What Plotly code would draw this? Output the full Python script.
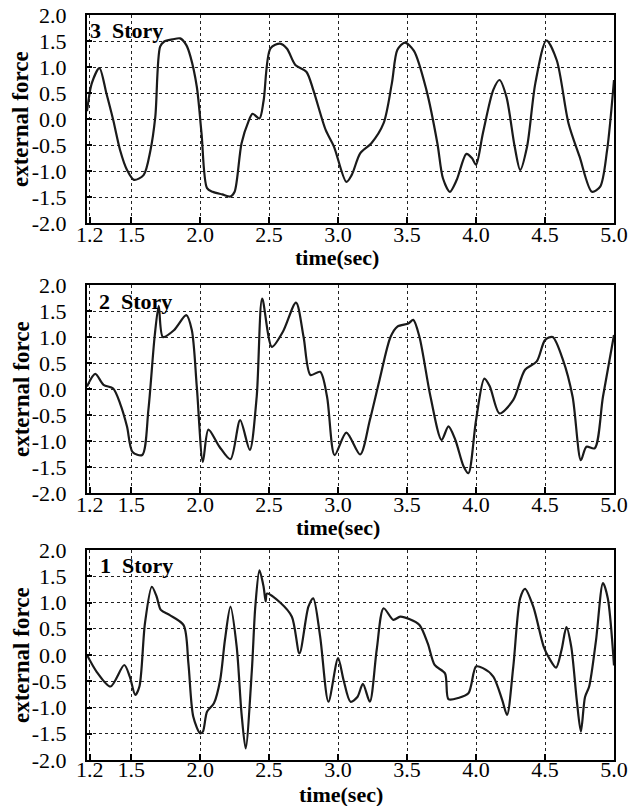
import plotly.graph_objects as go

# ---------------- data ----------------
t3 = [1.18,1.215,1.27,1.32,1.37,1.42,1.47,1.52,1.59,1.64,1.675,1.71,1.74,1.80,1.855,1.90,1.93,1.976,2.01,2.05,2.09,2.16,2.22,2.25,2.30,2.35,2.38,2.43,2.46,2.51,2.58,2.63,2.69,2.77,2.82,2.91,2.97,3.06,3.10,3.16,3.24,3.33,3.39,3.43,3.485,3.55,3.64,3.72,3.76,3.81,3.86,3.93,3.97,4.00,4.05,4.125,4.17,4.22,4.28,4.32,4.37,4.43,4.51,4.585,4.67,4.75,4.84,4.90,4.95,5.0]
f3 = [0.15,0.69,0.98,0.5,-0.02,-0.6,-0.98,-1.17,-1.08,-0.6,0.04,1.39,1.49,1.53,1.55,1.42,1.2,0.62,-0.27,-1.33,-1.40,-1.45,-1.49,-1.40,-0.47,-0.05,0.1,0.01,0.35,1.36,1.45,1.35,1.04,0.91,0.56,-0.21,-0.53,-1.21,-1.07,-0.66,-0.47,-0.08,0.69,1.33,1.47,1.31,0.56,-0.47,-1.14,-1.40,-1.17,-0.67,-0.75,-0.88,-0.27,0.56,0.75,0.43,-0.53,-0.98,-0.53,0.69,1.51,1.13,-0.08,-0.72,-1.40,-1.30,-0.6,0.75]

t2 = [1.18,1.24,1.30,1.37,1.42,1.47,1.51,1.58,1.625,1.67,1.70,1.73,1.81,1.90,1.94,1.976,2.02,2.06,2.14,2.22,2.29,2.36,2.41,2.45,2.52,2.60,2.695,2.75,2.80,2.87,2.92,2.975,3.06,3.16,3.23,3.30,3.38,3.43,3.51,3.545,3.59,3.67,3.75,3.80,3.85,3.91,3.945,4.0,4.06,4.10,4.17,4.27,4.355,4.44,4.50,4.555,4.63,4.70,4.76,4.80,4.86,4.92,5.0]
f2 = [0.05,0.29,0.08,0.01,-0.28,-0.72,-1.21,-1.27,-0.40,1.0,1.6,1.0,1.13,1.42,1.13,0.04,-1.40,-0.78,-1.11,-1.35,-0.6,-1.17,-0.15,1.74,0.81,1.1,1.66,1.0,0.27,0.33,-0.15,-1.27,-0.84,-1.26,-0.6,0.17,1.0,1.20,1.26,1.33,1.0,-0.15,-0.98,-0.72,-0.98,-1.49,-1.62,-0.6,0.20,0.05,-0.47,-0.21,0.37,0.53,0.94,1.0,0.56,-0.15,-1.37,-1.11,-1.14,-0.15,1.04]

t1 = [1.18,1.25,1.35,1.45,1.49,1.53,1.56,1.60,1.65,1.685,1.715,1.78,1.88,1.915,1.95,2.0,2.02,2.05,2.10,2.145,2.18,2.22,2.265,2.30,2.33,2.375,2.40,2.43,2.46,2.475,2.485,2.58,2.665,2.72,2.785,2.82,2.87,2.93,3.0,3.04,3.09,3.14,3.18,3.23,3.28,3.33,3.40,3.45,3.52,3.59,3.65,3.70,3.775,3.80,3.87,3.945,4.0,4.05,4.125,4.19,4.225,4.27,4.32,4.355,4.415,4.49,4.53,4.58,4.62,4.655,4.69,4.73,4.76,4.79,4.82,4.87,4.92,4.955,5.0]
f1 = [0.0,-0.32,-0.60,-0.19,-0.41,-0.76,-0.6,0.60,1.30,1.11,0.86,0.76,0.57,-0.16,-1.17,-1.49,-1.46,-1.08,-0.92,-0.48,0.29,0.92,0.16,-1.11,-1.78,-0.29,0.92,1.61,1.30,1.02,1.17,1.0,0.73,0.03,0.92,1.08,0.35,-0.89,-0.06,-0.48,-0.89,-0.8,-0.55,-0.89,0.10,0.89,0.67,0.73,0.68,0.57,0.22,-0.19,-0.35,-0.84,-0.82,-0.73,-0.22,-0.25,-0.41,-0.86,-1.14,-0.22,1.08,1.26,0.92,0.16,-0.06,-0.24,0.10,0.53,0.16,-0.86,-1.46,-0.80,-0.6,0.29,1.37,1.08,-0.2]

panel_labels = ["3&nbsp; Story", "2&nbsp; Story", "1&nbsp; Story"]
x_ticks = [1.2, 1.5, 2.0, 2.5, 3.0, 3.5, 4.0, 4.5, 5.0]
x_ticktext = ["1.2", "1.5", "2.0", "2.5", "3.0", "3.5", "4.0", "4.5", "5.0"]
y_ticks = [-2.0, -1.5, -1.0, -0.5, 0.0, 0.5, 1.0, 1.5, 2.0]
y_ticktext = ["-2.0", "-1.5", "-1.0", "-0.5", "0.0", "0.5", "1.0", "1.5", "2.0"]
x_title = "time(sec)"
y_title = "external force"

# ---------------- figure ----------------
W, H = 633, 806
ML, MR, MT, MB = 87, 19, 15, 46
plot_h = H - MT - MB
plot_w = W - ML - MR

def frac(ypix):
    return (H - MB - ypix) / plot_h

domains = [(frac(223), frac(15)), (frac(493), frac(285)), (frac(760), frac(550))]
series = [(t3, f3), (t2, f2), (t1, f1)]
label_x = [88, 97, 98]          # px, left of the panel label
label_y = [31, 301, 565]        # px, centre of the panel label
xtitle_x = [337, 338, 341]      # px, centre of the x title
xtitle_y = [257, 527, 794]      # px, centre of the x title

SERIF = "Liberation Serif, Times New Roman, serif"

def px_to_paper_x(px):
    return (px - ML) / plot_w

def py_to_paper_y(py):
    return (H - MB - py) / plot_h

fig = go.Figure()
layout = dict(
    width=W, height=H,
    margin=dict(l=ML, r=MR, t=MT, b=MB, autoexpand=False),
    paper_bgcolor="white", plot_bgcolor="white",
    showlegend=False,
    font=dict(family=SERIF, color="black"),
)
annotations = []
for i, ((tt, ff), dom) in enumerate(zip(series, domains)):
    xa = "x" if i == 0 else f"x{i+1}"
    ya = "y" if i == 0 else f"y{i+1}"
    fig.add_trace(go.Scatter(x=tt, y=ff, mode="lines", xaxis=xa, yaxis=ya,
                             line=dict(color="#1a1a1a", width=2.2, shape="spline", smoothing=0.8)))
    xk = "xaxis" if i == 0 else f"xaxis{i+1}"
    yk = "yaxis" if i == 0 else f"yaxis{i+1}"
    layout[xk] = dict(domain=[0, 1], anchor=ya, range=[1.18, 5.0],
                      tickvals=x_ticks, ticktext=x_ticktext,
                      ticks="inside", ticklen=6, tickwidth=2, tickcolor="black",
                      showline=True, mirror=True, linecolor="black", linewidth=2,
                      showgrid=True, gridcolor="#222", gridwidth=1, griddash="dot",
                      zeroline=False,
                      tickfont=dict(family=SERIF, size=22, color="black"),
                      ticklabelstandoff=-9 if i < 2 else -11)
    layout[yk] = dict(domain=list(dom), anchor=xa, range=[-2.0, 2.0],
                      tickvals=y_ticks, ticktext=y_ticktext,
                      ticks="inside", ticklen=5, tickwidth=2, tickcolor="black",
                      showline=True, mirror=True, linecolor="black", linewidth=2,
                      showgrid=True, gridcolor="#222", gridwidth=1, griddash="dot",
                      zeroline=False,
                      tickfont=dict(family=SERIF, size=22, color="black"),
                      ticklabelstandoff=14)
    annotations.append(dict(text=f"<b>{panel_labels[i]}</b>", xref="paper", yref="paper",
                            x=px_to_paper_x(label_x[i]), y=py_to_paper_y(label_y[i]),
                            xanchor="left", yanchor="middle", showarrow=False,
                            font=dict(family=SERIF, size=22, color="black")))
    annotations.append(dict(text=f"<b>{x_title}</b>", xref="paper", yref="paper",
                            x=px_to_paper_x(xtitle_x[i]), y=py_to_paper_y(xtitle_y[i]),
                            xanchor="center", yanchor="middle", showarrow=False,
                            font=dict(family=SERIF, size=22, color="black")))
    annotations.append(dict(text=f"<b>{y_title}</b>", xref="paper", yref=f"{ya} domain",
                            x=px_to_paper_x(21), y=0.5, xanchor="center", yanchor="middle",
                            textangle=-90, showarrow=False,
                            font=dict(family=SERIF, size=23, color="black")))

layout["annotations"] = annotations
fig.update_layout(**layout)
fig.write_html("out.html")
